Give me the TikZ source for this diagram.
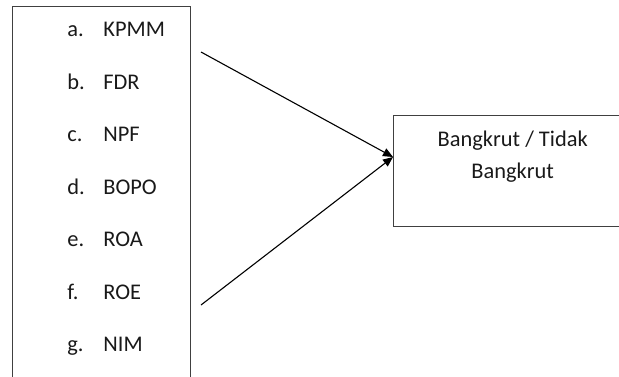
\documentclass[tikz,border=0pt]{standalone}
\usepackage{fontspec}
\setmainfont{Carlito}
\usetikzlibrary{arrows.meta,positioning}
\tikzset{
  frame box/.style={draw=black!75, line width=0.7pt, inner sep=0pt},
  factor letter/.style={anchor=base west, inner sep=0pt, text=black!90},
  factor name/.style={anchor=base west, inner sep=0pt, text=black!90},
  outcome text/.style={align=center, text=black!90},
  influence/.style={-{Triangle[length=5pt,width=4.2pt]}, line width=0.55pt}
}
\newcommand{\factorItem}[4]{%
  \node[factor letter] (#1 letter) at (67,#2) {#3};%
  \node[factor name] (#1) at (103,#2) {#4};%
}

\begin{document}
\begin{tikzpicture}[x=0.5pt,y=-0.5pt,font=\fontsize{11.2pt}{16.25pt}\selectfont]
  \useasboundingbox (0,0) rectangle (619,376);

  % box of the ratios
  \node[frame box, minimum width=178*0.5pt, minimum height=394*0.5pt,
        anchor=north west] (factors) at (12,6) {};

  % baselines of the list
  \factorItem{kpmm}{36.5}{a.}{KPMM}
  \factorItem{fdr}{89}{b.}{FDR}
  \factorItem{npf}{141.5}{c.}{NPF}
  \factorItem{bopo}{194}{d.}{BOPO}
  \factorItem{roa}{246.5}{e.}{ROA}
  \factorItem{roe}{299}{f.}{ROE}
  \factorItem{nim}{351.5}{g.}{NIM}

  % outcome
  \node[frame box, outcome text, minimum width=238*0.5pt,
        minimum height=111*0.5pt, anchor=north west] (outcome) at (393,115)
    {Bangkrut / Tidak\\Bangkrut\\\mbox{}};

  \coordinate (upper start) at (201,52);
  \coordinate (lower start) at (201,305);
  \coordinate (meet) at (393,157);
  \draw[influence] (upper start) -- (meet);
  \draw[influence] (lower start) -- (meet);
\end{tikzpicture}
\end{document}
